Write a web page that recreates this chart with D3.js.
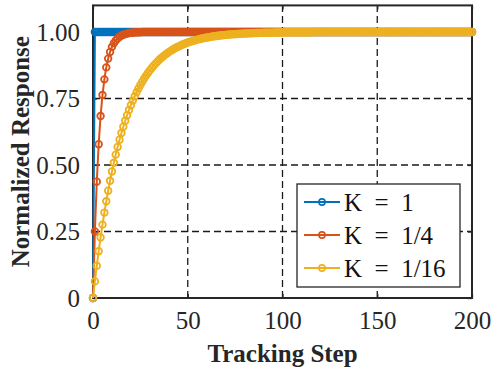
<!DOCTYPE html>
<html><head><meta charset="utf-8">
<script src="https://cdn.jsdelivr.net/npm/d3@7/dist/d3.min.js"></script>
</head><body style="margin:0">
<script>
// ---- data ----
const seriesNames = ["K = 1", "K = 1/4", "K = 1/16"];
const seriesColors = ["#0072BD", "#D95319", "#EDB120"];
const xTicks = [0, 50, 100, 150, 200];
const yTicks = [0, 0.25, 0.5, 0.75, 1.0];
const yTickLabels = ["0", "0.25", "0.50", "0.75", "1.00"];

// K = 1 (steps 0..200)
const k1 = [0,
1,1,1,1,1,1,1,1,1,1, 1,1,1,1,1,1,1,1,1,1, 1,1,1,1,1,1,1,1,1,1, 1,1,1,1,1,1,1,1,1,1,
1,1,1,1,1,1,1,1,1,1, 1,1,1,1,1,1,1,1,1,1, 1,1,1,1,1,1,1,1,1,1, 1,1,1,1,1,1,1,1,1,1,
1,1,1,1,1,1,1,1,1,1, 1,1,1,1,1,1,1,1,1,1, 1,1,1,1,1,1,1,1,1,1, 1,1,1,1,1,1,1,1,1,1,
1,1,1,1,1,1,1,1,1,1, 1,1,1,1,1,1,1,1,1,1, 1,1,1,1,1,1,1,1,1,1, 1,1,1,1,1,1,1,1,1,1,
1,1,1,1,1,1,1,1,1,1, 1,1,1,1,1,1,1,1,1,1, 1,1,1,1,1,1,1,1,1,1, 1,1,1,1,1,1,1,1,1,1];

// K = 1/4 (steps 0..200)
const k4 = [0,0.25,0.4375,0.578,0.684,0.763,0.822,0.867,0.900,0.925,
0.944,0.958,0.968,0.976,0.982,0.987,0.990,0.992,0.994,0.996,
0.997,0.998,0.998,0.999,0.999,0.999,
1,1,1,1,1,
1,1,1,1,1,1,1,1,1,1, 1,1,1,1,1,1,1,1,1,1, 1,1,1,1,1,1,1,1,1,1, 1,1,1,1,1,1,1,1,1,1,
1,1,1,1,1,1,1,1,1,1, 1,1,1,1,1,1,1,1,1,1, 1,1,1,1,1,1,1,1,1,1, 1,1,1,1,1,1,1,1,1,1,
1,1,1,1,1,1,1,1,1,1, 1,1,1,1,1,1,1,1,1,1, 1,1,1,1,1,1,1,1,1,1, 1,1,1,1,1,1,1,1,1,1,
1,1,1,1,1,1,1,1,1,1, 1,1,1,1,1,1,1,1,1,1, 1,1,1,1,1,1,1,1,1,1, 1,1,1,1,1,1,1,1,1,1,
1,1,1,1,1,1,1,1,1,1];

// K = 1/16 (steps 0..200)
const k16 = [0,0.0625,0.1211,0.1760,0.2275,0.2758,0.3211,0.3635,0.4033,0.4406,
0.4755,0.5083,0.5390,0.5679,0.5949,0.6202,0.6439,0.6662,0.6870,0.7066,
0.7249,0.7421,0.7582,0.7734,0.7875,0.8008,0.8133,0.8249,0.8359,0.8461,
0.8557,0.8648,0.8732,0.8811,0.8886,0.8955,0.9021,0.9082,0.9139,0.9193,
0.9243,0.9291,0.9335,0.9377,0.9416,0.9452,0.9486,0.9518,0.9549,0.9577,
0.9603,0.9628,0.9651,0.9673,0.9693,0.9713,0.9731,0.9747,0.9763,0.9778,
0.9792,0.9805,0.9817,0.9829,0.9839,0.9849,0.9859,0.9868,0.9876,0.9884,
0.9891,0.9898,0.9904,0.9910,0.9916,0.9921,0.9926,0.9931,0.9935,0.9939,
0.9943,0.9946,0.9950,0.9953,0.9956,0.9959,0.9961,0.9964,0.9966,0.9968,
0.9970,0.9972,0.9974,0.9975,0.9977,0.9978,0.9980,0.9981,0.9982,0.9983,
0.9984,
0.999,0.999,0.999,0.999,0.999,0.999,0.999,0.999,0.999,0.999,0.999,0.999,0.999,0.999,0.999,
1,1,1,1,1,
1,1,1,1,1,1,1,1,1,1, 1,1,1,1,1,1,1,1,1,1, 1,1,1,1,1,1,1,1,1,1, 1,1,1,1,1,1,1,1,1,1,
1,1,1,1,1,1,1,1,1,1, 1,1,1,1,1,1,1,1,1,1, 1,1,1,1,1,1,1,1,1,1, 1,1,1,1,1,1,1,1,1,1];

const seriesValues = [k1, k4, k16];

// ---- layout ----
const W = 492, H = 376;
const L = 93, R = 472, T = 5.4, B = 298;
const axisColor = "#262626";
const FONT = '"Liberation Serif"';

const x = d3.scaleLinear().domain([0, 200]).range([L, R]);
const y = d3.scaleLinear().domain([0, 1.1]).range([B, T]);

const svg = d3.select("body").append("svg").attr("width", W).attr("height", H)
  .attr("font-family", FONT).style("display", "block");

// grid
const grid = svg.append("g").attr("stroke", "#1a1a1a").attr("stroke-width", 1.3)
  .attr("stroke-dasharray", "7,4").attr("fill", "none");
grid.selectAll("line.gx").data(xTicks.slice(1, -1)).join("line")
  .attr("x1", d => x(d)).attr("x2", d => x(d)).attr("y1", B).attr("y2", T);
grid.selectAll("line.gy").data(yTicks.slice(1)).join("line")
  .attr("x1", L).attr("x2", R).attr("y1", d => y(d)).attr("y2", d => y(d));

// axes (box style, ticks inward)
const tl = 4;
const xAxisB = d3.axisBottom(x).tickValues(xTicks).tickSize(-tl).tickPadding(tl + 9).tickFormat(d3.format("d"));
const xAxisT = d3.axisTop(x).tickValues(xTicks).tickSize(-tl).tickFormat("");
const yAxisL = d3.axisLeft(y).tickValues(yTicks).tickSize(-tl).tickPadding(tl + 9).tickFormat((d, i) => yTickLabels[i]);
const yAxisR = d3.axisRight(y).tickValues(yTicks).tickSize(-tl).tickFormat("");

function styleAxis(g) {
  g.attr("font-family", FONT).attr("font-size", 25);
  g.select(".domain").remove();
  g.selectAll(".tick line").attr("stroke", axisColor).attr("stroke-width", 1.3);
  g.selectAll(".tick text").attr("fill", axisColor).attr("font-family", FONT)
    .style("font-family", FONT).attr("font-size", 25);
}
svg.append("g").attr("transform", `translate(0,${B})`).call(xAxisB).call(styleAxis)
  .selectAll(".tick text").attr("dy", "0.71em");
svg.append("g").attr("transform", `translate(0,${T})`).call(xAxisT).call(styleAxis);
svg.append("g").attr("transform", `translate(${L},0)`).call(yAxisL).call(styleAxis);
svg.append("g").attr("transform", `translate(${R},0)`).call(yAxisR).call(styleAxis);

// box frame
svg.append("rect").attr("x", L).attr("y", T).attr("width", R - L).attr("height", B - T)
  .attr("fill", "none").attr("stroke", axisColor).attr("stroke-width", 2);

// series
const line = d3.line().x((d, i) => x(i)).y(d => y(d));
seriesValues.forEach((vals, s) => {
  const g = svg.append("g");
  g.append("path").datum(vals).attr("d", line).attr("fill", "none")
    .attr("stroke", seriesColors[s]).attr("stroke-width", 2).attr("stroke-linejoin", "round");
  g.selectAll("circle").data(vals).join("circle")
    .attr("cx", (d, i) => x(i)).attr("cy", d => y(d)).attr("r", 3.3)
    .attr("fill", "none").attr("stroke", seriesColors[s]).attr("stroke-width", 1.8);
});

// axis labels
svg.append("text").attr("font-family", FONT).style("font-family", FONT).attr("x", (L + R) / 2).attr("y", 362).attr("text-anchor", "middle")
  .attr("font-weight", "bold").attr("font-size", 25)
  .attr("fill", axisColor).text("Tracking Step");
svg.append("text").attr("font-family", FONT).style("font-family", FONT).attr("transform", `translate(29,${(T + B) / 2}) rotate(-90)`).attr("text-anchor", "middle")
  .attr("font-weight", "bold").attr("font-size", 25)
  .attr("fill", axisColor).text("Normalized Response");

// legend
const lg = svg.append("g");
lg.append("rect").attr("x", 297).attr("y", 184).attr("width", 163).attr("height", 103)
  .attr("fill", "#fff").attr("stroke", axisColor).attr("stroke-width", 1.3);
const legY = [202, 235, 268];
seriesNames.forEach((nm, s) => {
  lg.append("line").attr("x1", 304).attr("x2", 340).attr("y1", legY[s]).attr("y2", legY[s])
    .attr("stroke", seriesColors[s]).attr("stroke-width", 2);
  lg.append("circle").attr("cx", 322).attr("cy", legY[s]).attr("r", 3.1)
    .attr("fill", "none").attr("stroke", seriesColors[s]).attr("stroke-width", 1.6);
  lg.append("text").attr("font-family", FONT).style("font-family", FONT).attr("x", 344).attr("y", legY[s]).attr("dy", "0.35em")
    .attr("font-size", 25).attr("fill", "#111")
    .attr("xml:space", "preserve").text(nm.replace(" = ", "  =  "));
});
</script>
</body></html>
